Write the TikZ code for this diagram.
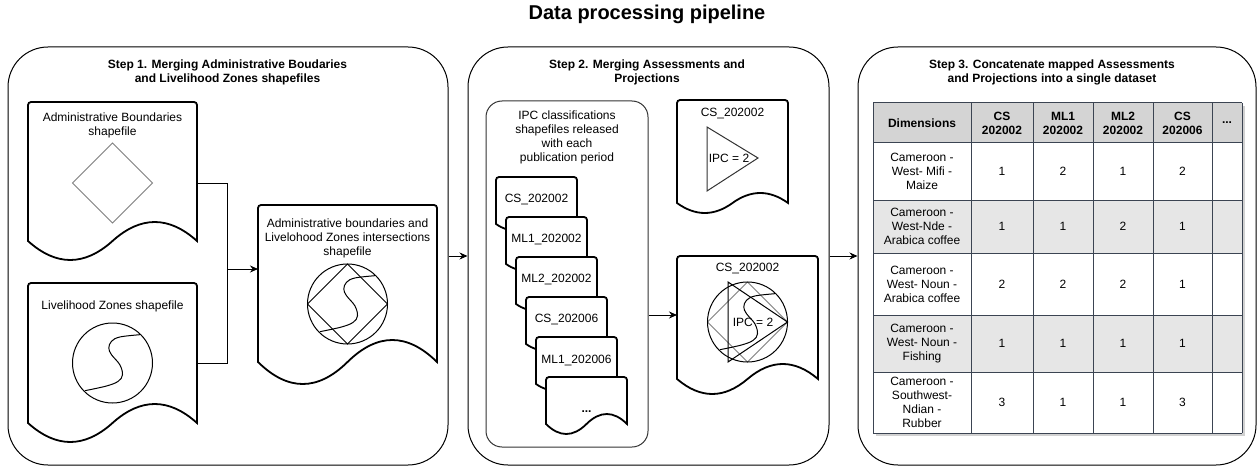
\documentclass[tikz,border=0pt]{standalone}
\usepackage{fontspec}
\setmainfont{Liberation Sans}
\usetikzlibrary{arrows.meta}

\definecolor{hdrgray}{HTML}{D4D4D4}
\definecolor{rowgray}{HTML}{E6E6E6}
\definecolor{tblline}{HTML}{3B4452}
\definecolor{shapegray}{HTML}{7F7F7F}

% document shape: x, y, width, side height, wave amplitude
\newcommand{\docshape}[5]{%
  \filldraw[docline] ({#1},{#2+#4}) [rounded corners=3pt] -- ({#1},{#2}) -- ({#1+#3},{#2}) [sharp corners] -- ({#1+#3},{#2+#4})
    .. controls ({#1+5*#3/6},{#2+#4-4*#5/3}) and ({#1+2*#3/3},{#2+#4-4*#5/3}) .. ({#1+#3/2},{#2+#4})
    .. controls ({#1+#3/3},{#2+#4+4*#5/3}) and ({#1+#3/6},{#2+#4+4*#5/3}) .. ({#1},{#2+#4}) -- cycle;}

% zone boundary running through a circle
\newcommand{\zoneline}[2]{%
  \draw[shift={(#1,#2)}] plot[smooth, tension=0.6] coordinates {(-27.7,27.7) (-6,23) (5.7,18.3) (10,11.7) (7.3,1.7) (-1,-8.3) (-3.7,-15) (-1,-21.7) (7.3,-26) (27.3,-28.3)};}

\begin{document}
\begin{tikzpicture}[x=1pt, y=-1pt, line width=1pt, >={Stealth[length=8pt,width=7pt]},
    font=\fontsize{12}{14}\selectfont,
    panel/.style={draw, rounded corners=40pt, minimum width=#1, minimum height=418pt, inner sep=0pt},
    docline/.style={draw=black, fill=white, line width=1.8pt},
    heading/.style={font=\bfseries\fontsize{12}{14}\selectfont, align=center},
    cell/.style={align=center, inner sep=0pt},
    hcell/.style={cell, font=\bfseries\fontsize{12}{14}\selectfont}]

    \useasboundingbox (0,0) rectangle (1258,468);

    \node[font=\bfseries\fontsize{20}{24}\selectfont] (title) at (647,14) {Data processing pipeline};

    % the three steps
    \node[panel=440pt] (step1) at (228,256) {};
    \node[panel=361pt] (step2) at (648.5,256) {};
    \node[panel=398pt] (step3) at (1057,256) {};
    \draw[->] (step1) -- (step2);
    \draw[->] (step2) -- (step3);

    \node[heading] (head1) at (227.5,72) {Step 1. Merging Administrative Boudaries\\and Livelihood Zones shapefiles};
    \node[heading] (head2) at (647,72) {Step 2. Merging Assessments and\\Projections};
    \node[heading] (head3) at (1052,72) {Step 3. Concatenate mapped Assessments\\and Projections into a single dataset};

    % step 1
    \docshape{28}{102}{169}{139}{19}
    \node[align=center] (admtext) at (112.5,125) {Administrative Boundaries\\shapefile};
    \draw[shapegray] (72.5,183) -- (112.5,143) -- (152.5,183) -- (112.5,223) -- cycle;

    \docshape{28}{283}{169}{140}{19}
    \node (lztext) at (112.5,306) {Livelihood Zones shapefile};
    \draw (112.5,363) circle (40pt);
    \zoneline{112.5}{363}

    \docshape{258}{205}{179}{157}{22}
    \node[align=center] (mergedtext) at (347.5,238) {Administrative boundaries and\\Livelohood Zones intersections\\shapefile};
    \draw (347.5,304) circle (40pt);
    \draw (307.5,304) -- (347.5,264) -- (387.5,304) -- (347.5,344) -- cycle;
    \zoneline{347.5}{304}

    \coordinate (admR) at (197,183);
    \coordinate (lzR) at (197,363);
    \coordinate (mergedL) at (258,269);
    \coordinate (elbow) at (227.5,269);
    \draw[->] (admR) -| (elbow) -- (mergedL);
    \draw (lzR) -| (elbow);

    % step 2
    \node[draw=black!80, rounded corners=16pt, minimum width=162pt, minimum height=346pt] (ipcbox) at (567,274) {};
    \node[align=center] (ipctext) at (567,137.5) {IPC classifications\\shapefiles released\\with each\\publication period};
    \foreach \lbl [count=\i from 0] in {CS\_202002, ML1\_202002, ML2\_202002, CS\_202006, ML1\_202006}{
        \docshape{496+10*\i}{177+40*\i}{81}{47}{7}
        \node (stack\i) at ({536.5+10*\i},{200+40*\i}) {\lbl};
    }
    \docshape{546}{377}{81}{47}{10}
    \node[anchor=base] (stack5) at (586.5,412) {\textbf{...}};

    \docshape{677}{100}{111}{103}{10}
    \node (tritext) at (732.5,114) {CS\_202002};
    \draw[black!80] (707,127) -- (758,158) -- (707,191) -- cycle;
    \node (triipc) at (729,158) {IPC = 2};

    \docshape{677}{256}{141}{123}{15}
    \node (restext) at (747.5,269) {CS\_202002};
    \draw[shapegray] (707.5,322) -- (747.5,282) -- (787.5,322) -- (747.5,362) -- cycle;
    \draw (747.5,322) circle (40pt);
    \zoneline{747.5}{322}
    \draw (728,282) -- (787.5,322) -- (728,362) -- cycle;
    \node (resipc) at (753,322) {IPC = 2};

    \coordinate (resL) at (677,315);
    \draw[->] (ipcbox.east |- resL) -- (resL);

    % step 3: the table
    \fill[black!18] (876,106) rectangle (1245,436);
    \fill[hdrgray] (873,103) rectangle (1242,143);
    \node[hcell] (hdim) at (922,123) {Dimensions};
    \foreach \hx/\htxt [count=\k] in {1002/{CS\\202002}, 1063/{ML1\\202002}, 1123/{ML2\\202002}, 1182.5/{CS\\202006}}
        \node[hcell] (hcol\k) at (\hx,123) {\htxt};
    \node[hcell] (hcol5) at (1227,123) {...};
    \foreach \r/\ya/\yb/\bg/\dimtxt/\va/\vb/\vc/\vd in {
        1/143/200/white/{Cameroon -\\West- Mifi -\\Maize}/1/2/1/2,
        2/200/253/rowgray/{Cameroon -\\West-Nde -\\Arabica coffee}/1/1/2/1,
        3/253/315/white/{Cameroon -\\West- Noun -\\Arabica coffee}/2/2/2/1,
        4/315/372/rowgray/{Cameroon -\\West- Noun -\\Fishing}/1/1/1/1,
        5/372/433/white/{Cameroon -\\Southwest-\\Ndian -\\Rubber}/3/1/1/3}{
        \fill[\bg] (873,\ya) rectangle (1242,\yb);
        \node[cell] (dim\r) at (922,{(\ya+\yb)/2}) {\dimtxt};
        \node[cell] (v\r-1) at (1002,{(\ya+\yb)/2}) {\va};
        \node[cell] (v\r-2) at (1063,{(\ya+\yb)/2}) {\vb};
        \node[cell] (v\r-3) at (1123,{(\ya+\yb)/2}) {\vc};
        \node[cell] (v\r-4) at (1182.5,{(\ya+\yb)/2}) {\vd};
    }
    \foreach \gx in {873,971,1033,1093,1153,1212,1242}
        \draw[tblline] (\gx,103) -- (\gx,433);
    \foreach \gy in {103,143,200,253,315,372,433}
        \draw[tblline] (873,\gy) -- (1242,\gy);
\end{tikzpicture}
\end{document}
